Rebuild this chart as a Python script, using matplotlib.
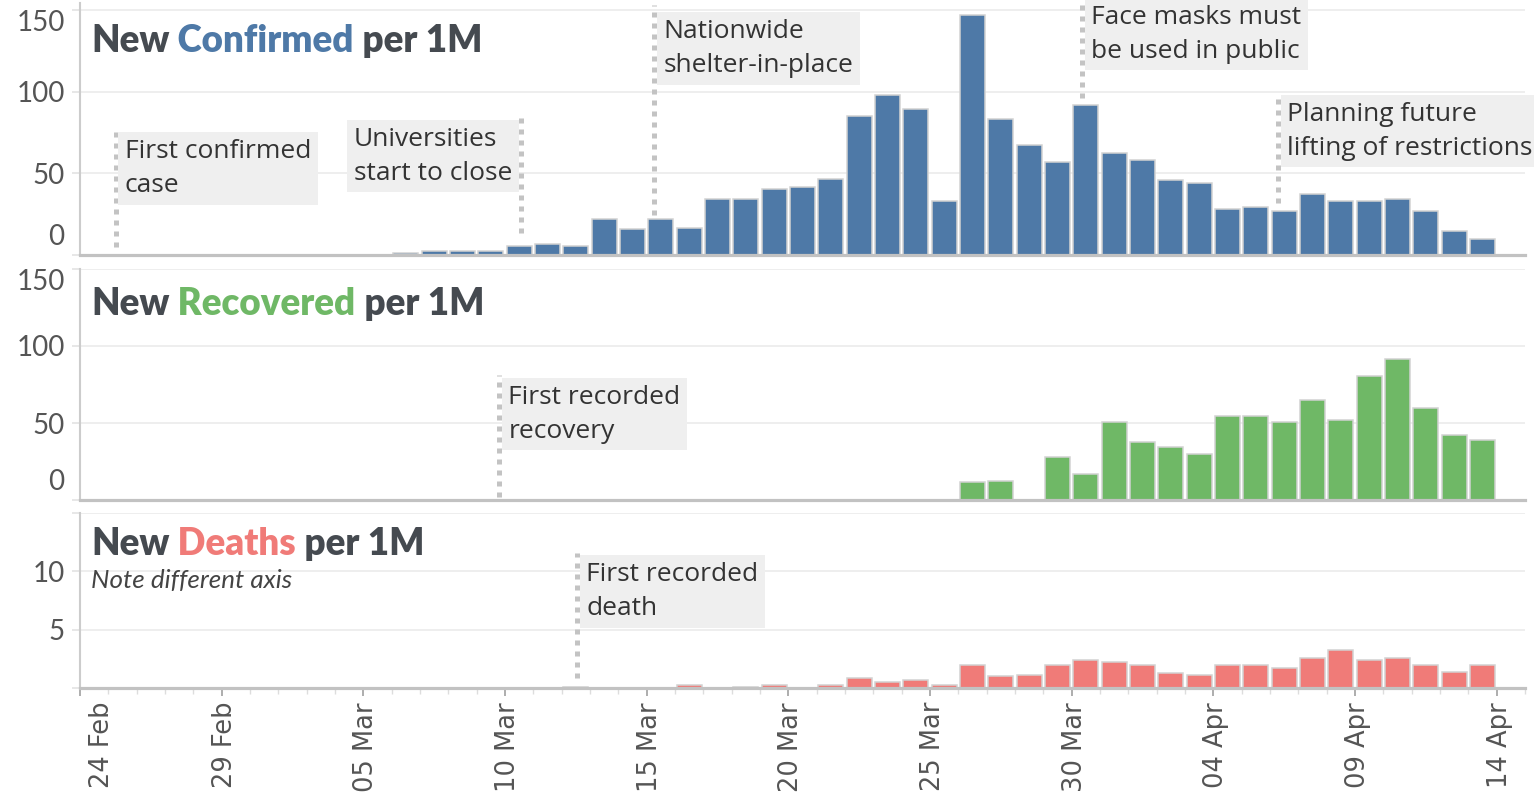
"""New confirmed / recovered / deaths per 1M: three stacked daily bar panels with event notes."""

import matplotlib

matplotlib.use("Agg")
import matplotlib.pyplot as plt
import matplotlib.ticker as mticker
import matplotlib.transforms as mtransforms
import numpy as np

# daily values, 24 Feb .. 13 Apr 2020
confirmed = [0, 0, 0, 0, 0, 0.2, 0.2, 0, 0, 0.2,
             0.2, 1.0, 2.2, 2.2, 2.2, 5.5, 6.5, 5.5, 21.9, 16.0,
             21.9, 16.8, 34.4, 34.4, 40.5, 41.7, 46.6, 84.9, 98.2, 89.2,
             33.3, 146.8, 83.0, 67.5, 57.1, 92.0, 62.2, 58.1, 45.8, 43.8,
             28.2, 29.2, 27.2, 37.6, 33.1, 33.1, 34.4, 27.2, 14.7, 9.6]
recovered = [0, 0, 0, 0, 0, 0, 0, 0, 0, 0,
             0, 0, 0, 0, 0, 0, 0, 0, 0, 0,
             0, 0, 0, 0.3, 0, 0, 0, 0, 0, 0,
             0, 11.5, 12.6, 0, 27.8, 17.0, 50.9, 37.6, 34.3, 30.0,
             54.3, 54.3, 50.9, 65.2, 51.7, 80.7, 91.5, 59.8, 42.4, 39.1]
deaths = [0, 0, 0, 0, 0, 0, 0, 0, 0, 0,
          0, 0, 0, 0, 0, 0, 0, 0.1, 0, 0,
          0, 0.3, 0, 0.1, 0.3, 0, 0.3, 0.9, 0.5, 0.7,
          0.3, 2.0, 1.0, 1.15, 2.0, 2.4, 2.2, 2.0, 1.3, 1.15,
          2.0, 2.0, 1.7, 2.6, 3.3, 2.4, 2.6, 2.0, 1.4, 2.0]

tick_days = [0, 5, 10, 15, 20, 25, 30, 35, 40, 45, 50]
tick_labels = ["24 Feb", "29 Feb", "05 Mar", "10 Mar", "15 Mar", "20 Mar",
               "25 Mar", "30 Mar", "04 Apr", "09 Apr", "14 Apr"]

W, H = 1534, 796
BLUE = "#4e79a7"
GREEN = "#6fb866"
RED = "#f07b78"
DARK = "#454a50"
TICK = "#555555"
GRID = "#eeeeee"
NOTE_BG = "#efefef"
DOT = "#c3c3c3"
XMAX = 51.0

fig = plt.figure(figsize=(W / 100, H / 100), dpi=100)


def panel(top, bottom, ymax, yticks, ylabels):
    ax = fig.add_axes([80 / W, 1 - bottom / H, 1445 / W, (bottom - top) / H])
    ax.set_xlim(0, XMAX)
    ax.set_ylim(0, ymax)
    ax.set_yticks(yticks, ylabels)
    for s in ("top", "right"):
        ax.spines[s].set_visible(False)
    ax.spines["left"].set_color("#cccccc")
    ax.spines["left"].set_linewidth(1.5)
    ax.spines["bottom"].set_color("#c2c2c2")
    ax.spines["bottom"].set_linewidth(2.3)
    ax.grid(axis="y", color=GRID, lw=1.4)
    ax.set_axisbelow(True)
    ax.tick_params(axis="y", length=6, width=1.2, color="#e3e3e3", pad=5,
                   labelsize=20, labelcolor=TICK)
    for lab in ax.get_yticklabels():
        lab.set_fontfamily("Lato")
    ax.tick_params(axis="x", which="both", bottom=False, labelbottom=False)
    return ax


def bars(ax, values, color):
    x = np.arange(len(values)) + 0.5
    ax.bar(x, values, width=0.88, color=color, edgecolor="#d2d2d2", linewidth=1.1, zorder=2)


def title(ax, base_px, pieces):
    kw = dict(fontsize=26.5, fontweight="heavy", family="Lato")
    prev = fig.text(91 / W, 1 - base_px / H, pieces[0][0], color=pieces[0][1], va="baseline", **kw)
    for txt, col in pieces[1:]:
        prev = ax.annotate(txt, xy=(1, 0), xycoords=prev, va="bottom", ha="left", color=col, **kw)


def note(ax, x, line_top, line_bottom, text_y, text, side="right"):
    ax.plot([x, x], [line_bottom, line_top], color=DOT, lw=3.6, linestyle=(0, (1, 1.2)),
            dash_capstyle="butt", clip_on=False, zorder=3)
    dx = 9 if side == "right" else -9
    ax.annotate(text, xy=(x, text_y), xytext=(dx, 0), textcoords="offset pixels",
                ha="left" if side == "right" else "right", multialignment="left",
                va="top", fontsize=19, family="Open Sans", color="#333333", linespacing=1.47,
                bbox=dict(boxstyle="square,pad=0.25", fc=NOTE_BG, ec="none"),
                annotation_clip=False, zorder=4)


ax1 = panel(3, 255, 154.3, [0, 50, 100, 150], ["0", "50", "100", "150"])
ax2 = panel(269, 500, 150, [0, 50, 100, 150], ["0", "50", "100", "150"])
ax3 = panel(513, 688, 15, [0, 5, 10, 15], ["", "5", "10", ""])

for ax in (ax1, ax2):
    ticks = ax.yaxis.get_major_ticks()
    zero = ticks[0].label1
    zero.set_verticalalignment("bottom")
    zero.set_transform(zero.get_transform() + mtransforms.ScaledTranslation(0, 0.05, fig.dpi_scale_trans))
    ticks[-1].label1.set_verticalalignment("top")

bars(ax1, confirmed, BLUE)
bars(ax2, recovered, GREEN)
bars(ax3, deaths, RED)

# date axis on the bottom panel
ax3.set_xticks(tick_days, tick_labels)
ax3.xaxis.set_minor_locator(mticker.MultipleLocator(1))
ax3.tick_params(axis="x", which="major", bottom=True, labelbottom=True, length=6, width=1.2,
                color="#a0a0a0", pad=4, labelsize=18.5, labelcolor=TICK, labelrotation=90)
ax3.tick_params(axis="x", which="minor", bottom=True, length=4, width=1, color="#dddddd")
for i, lab in enumerate(ax3.get_xticklabels()):
    shift = 0.22 if i == 0 else 0.03
    lab.set_transform(lab.get_transform() + mtransforms.ScaledTranslation(shift, 0, fig.dpi_scale_trans))

title(ax1, 52, [("New", DARK), (" Confirmed", BLUE), (" per 1M", DARK)])
title(ax2, 315, [("New", DARK), (" Recovered", GREEN), (" per 1M", DARK)])
title(ax3, 555, [("New", DARK), (" Deaths", RED), (" per 1M", DARK)])
fig.text(91 / W, 1 - 588 / H, "Note different axis", style="italic", family="Lato",
         fontsize=18.7, color="#444444", va="baseline")

note(ax1, 1.27, 76.5, 4.9, 71.0, "First confirmed\ncase")
note(ax1, 15.57, 87.6, 13.5, 78.4, "Universities\nstart to close", side="left")
note(ax1, 20.27, 153.1, 24.5, 144.5, "Nationwide\nshelter-in-place")
note(ax1, 35.38, 157.4, 96.1, 153.1, "Face masks must\nbe used in public")
note(ax1, 42.30, 96.1, 31.8, 93.7, "Planning future\nlifting of restrictions")
note(ax2, 14.80, 81.2, 2.0, 74.7, "First recorded\nrecovery")
note(ax3, 17.55, 11.57, 0.86, 10.8, "First recorded\ndeath")

fig.savefig("out.png", dpi=100)
plt.close(fig)
